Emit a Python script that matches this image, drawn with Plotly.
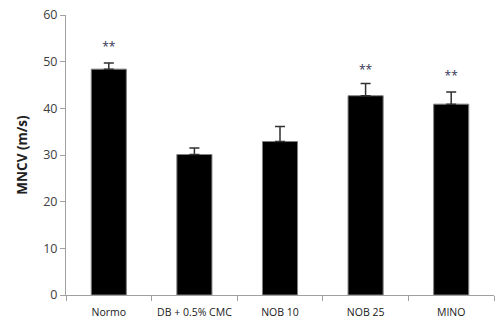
import plotly.graph_objects as go

categories = ["Normo", "DB + 0.5% CMC", "NOB 10", "NOB 25", "MINO"]
values = [48.4, 30.1, 32.9, 42.7, 40.9]
errors = [1.3, 1.4, 3.2, 2.6, 2.6]
star_labels = ["**", "", "", "**", "**"]
star_y = [52.9, None, None, 48.0, 46.8]

fig = go.Figure()
fig.add_trace(go.Bar(
    x=categories, y=values, width=0.41,
    marker=dict(color="black", line=dict(color="#808080", width=1)),
    error_y=dict(type="data", array=errors, arrayminus=[0]*len(errors), symmetric=False,
                 color="#303030", thickness=1.5, width=5),
))
sx = [c for c, s in zip(categories, star_labels) if s]
sy = [y for y, s in zip(star_y, star_labels) if s]
st = [s for s in star_labels if s]
fig.add_trace(go.Scatter(x=sx, y=sy, mode="text", text=st,
                         textfont=dict(size=12, color="#333355", family="Open Sans"),
                         hoverinfo="skip"))

fig.update_layout(
    width=500, height=327, showlegend=False,
    margin=dict(l=66, r=6, t=15, b=32, autoexpand=False),
    paper_bgcolor="white", plot_bgcolor="white",
    font=dict(family="Open Sans", color="#404040"),
    bargap=0.5,
)
fig.update_xaxes(
    showline=True, linecolor="#A0A0A0", linewidth=1,
    ticks="outside", tickson="boundaries", ticklen=5, tickcolor="#A0A0A0",
    ticklabelstandoff=7, tickangle=0, automargin=False,
    tickfont=dict(size=10.5, color="#202020"), showgrid=False,
)
fig.update_yaxes(
    range=[0, 60], dtick=10, showline=True, linecolor="#A0A0A0", linewidth=1,
    ticks="outside", ticklen=5, tickcolor="#A0A0A0", showgrid=False, zeroline=False,
    automargin=False,
    tickfont=dict(size=12.5, color="#404040"),
    title=dict(text="<b>MNCV (m/s)</b>", font=dict(size=13.5, color="#202020"), standoff=12),
)

fig.write_html("out.html")
